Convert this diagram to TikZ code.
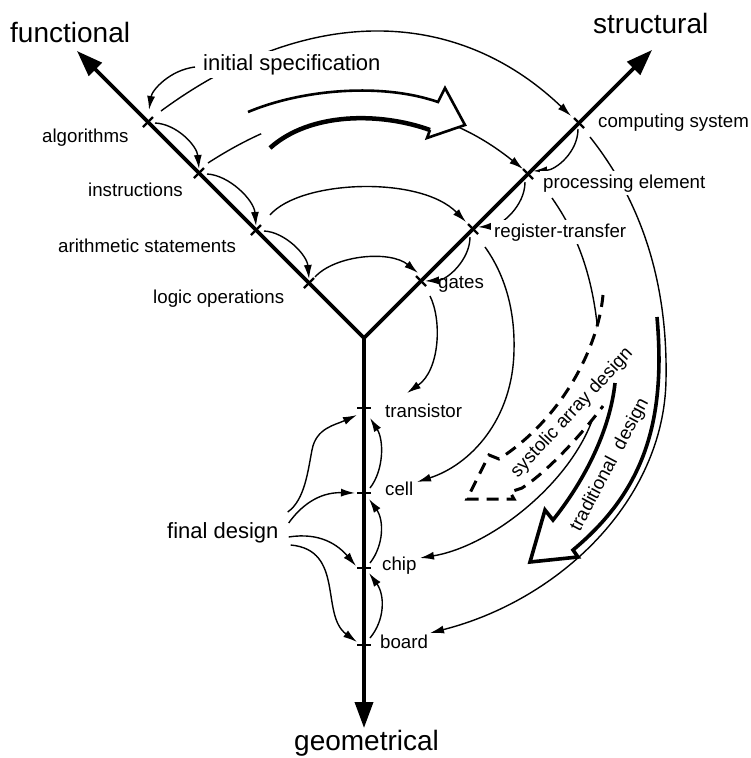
\documentclass[tikz,border=0pt]{standalone}
\usepackage{fontspec}
\setmainfont{Liberation Sans}
\usetikzlibrary{arrows.meta,calc}
\pgfdeclarelayer{arcs}
\pgfdeclarelayer{shapes}
\pgfsetlayers{arcs,shapes,main}
\begin{document}
\begin{tikzpicture}[x=1pt,y=-1pt,
  axisline/.style={line width=3.6pt},
  axhead/.style={-{Triangle[length=26pt,width=18pt]}},
  axheadtwo/.style={{Triangle[length=26pt,width=18pt]}-{Triangle[length=26pt,width=18pt]}},
  axtick/.style={line width=2.4pt},
  conn/.style={line width=1.4pt,-{Latex[length=14pt,width=8pt]}},
  bigt/.style={font=\fontsize{28}{30}\selectfont,inner sep=0pt,anchor=base west},
  medt/.style={font=\fontsize{22}{24}\selectfont,inner sep=0pt,anchor=base west},
  labt/.style={font=\fontsize{18.7}{20}\selectfont,inner sep=0pt,anchor=base west},
  rott/.style={font=\fontsize{18.7}{20}\selectfont,inner sep=0pt,anchor=center},
  mask/.style={fill=white,inner sep=3pt},
  blockthin/.style={line width=2.6pt,line join=miter},
  blockthick/.style={line width=4.5pt},
  tradline/.style={line width=3.6pt,line join=miter},
  sysline/.style={line width=3pt,dash pattern=on 12pt off 8pt,line join=miter},
]
\useasboundingbox (0,0) rectangle (751,758);

% axis points
\coordinate (V) at (364,338);
\coordinate (Ftip) at (77,51);
\coordinate (Stip) at (652,50);
\coordinate (Gtip) at (364,728);
\coordinate (alg) at (148,122);
\coordinate (ins) at (199,173);
\coordinate (ari) at (256,230);
\coordinate (log) at (309,283);
\coordinate (com) at (579,123);
\coordinate (pro) at (528,174);
\coordinate (reg) at (473,229);
\coordinate (gat) at (421,281);
\coordinate (tra) at (364,408);
\coordinate (cel) at (364,493);
\coordinate (chi) at (364,568);
\coordinate (boa) at (364,645);

% labels
\node[bigt] (lfun) at (10,42) {functional};
\node[bigt] (lstr) at (593,33) {structural};
\node[bigt] (lgeo) at (294,750) {geometrical};
\node[medt,mask] (lini) at (200,70) {initial specification};
\node[medt] (lfin) at (167,538) {final design};
\node[labt] (lalg) at (42,142) {algorithms};
\node[labt] (lins) at (88,196) {instructions};
\node[labt] (lari) at (58,252) {arithmetic statements};
\node[labt] (llog) at (153,303) {logic operations};
\node[labt] (lcom) at (598,127) {computing system};
\node[labt,mask] (lpro) at (540,188) {processing element};
\node[labt,mask] (lreg) at (491,237) {register-transfer};
\node[labt] (lgat) at (438,288) {gates};
\node[labt] (ltra) at (385,417) {transistor};
\node[labt] (lcel) at (385,495) {cell};
\node[labt] (lchi) at (382,570) {chip};
\node[labt] (lboa) at (380,648) {board};
\node[rott,rotate=47] (lsys) at (572,413) {systolic array design};
\node[rott,rotate=62] (ltrd) at (610,465) {traditional\hspace{0.3em} design};

\begin{pgfonlayer}{arcs}
% functional chain
\draw[conn] ($(alg)+(7,1)$) .. controls (177,124) and (197,146) .. ($(ins)+(0,-4)$);
\draw[conn] ($(ins)+(8,1)$) .. controls (229,175) and (254,200) .. ($(ari)+(0,-4)$);
\draw[conn] ($(ari)+(8,1)$) .. controls (285,232) and (307,255) .. ($(log)+(0,-4)$);
% structural chain
\draw[conn] ($(com)+(-1,6)$) .. controls (578,152) and (556,170) .. ($(pro)+(5,-3)$);
\draw[conn] ($(pro)+(-3,8)$) .. controls (525,206) and (501,226) .. ($(reg)+(5,-2)$);
\draw[conn] ($(reg)+(-3,8)$) .. controls (470,260) and (447,280) .. ($(gat)+(4,0)$);
% functional -> structural
\draw[conn] ($(lini.base west)+(-5,-3)$) .. controls (170,70) and (152,90) .. ($(alg)+(1,-12)$);
\draw[conn] ($(alg)+(13,-11)$) .. controls (305,5) and (455,5) .. ($(com)+(-8,-7)$);
\draw[conn] ($(ins)+(9,-10)$) .. controls (316,93) and (422,88) .. ($(pro)+(-5,-5)$);
\draw[conn] ($(ari)+(14,-15)$) .. controls (300,180) and (420,175) .. ($(reg)+(-7,-7)$);
\draw[conn] ($(log)+(6,-6)$) .. controls (335,255) and (390,250) .. ($(gat)+(-3,-8)$);
% structural -> geometrical
\draw[conn] ($(gat)+(9,15)$) .. controls (442,320) and (440,370) .. ($(tra)+(43,-15)$);
\draw[conn] ($(reg)+(12,18)$) .. controls (505,275) and (515,310) .. (514,350)
            .. controls (513,420) and (470,465) .. ($(cel)+(53,-11)$);
\draw[conn] ($(pro)+(24,24)$) .. controls (585,245) and (600,300) .. (600,380)
            .. controls (600,460) and (500,545) .. ($(chi)+(56,-10)$);
\draw[conn] ($(com)+(11,14)$) .. controls (640,200) and (668,280) .. (666,380)
            .. controls (664,500) and (560,600) .. ($(boa)+(66,-12)$);
% final design
\draw[conn] ($(lfin.base east)+(9,-26)$) .. controls (305,500) and (308,470) .. (312,450)
            .. controls (316,428) and (335,425) .. ($(tra)+(-7,7)$);
\draw[conn] ($(lfin.base east)+(10,-15)$) .. controls (300,507) and (318,492) .. ($(cel)+(-9,0)$);
\draw[conn] ($(lfin.base east)+(10,-1)$) .. controls (320,532) and (338,545) .. ($(chi)+(-8,-2)$);
\draw[conn] ($(lfin.base east)+(12,7)$) .. controls (345,550) and (320,615) .. ($(boa)+(-7,-3)$);
% geometrical chain
\draw[conn] ($(cel)+(6,-5)$) .. controls (384,470) and (384,440) .. ($(tra)+(6,10)$);
\draw[conn] ($(chi)+(6,-5)$) .. controls (384,545) and (384,520) .. ($(cel)+(5,6)$);
\draw[conn] ($(boa)+(6,-7)$) .. controls (385,620) and (385,595) .. ($(chi)+(5,5)$);
\end{pgfonlayer}

\begin{pgfonlayer}{shapes}
% hollow block arrow (top)
\fill[white] (248,112) .. controls (300,90) and (380,82) .. (438,102) -- (445,88) -- (465,125)
   -- (427,138) -- (430,130) .. controls (380,112) and (310,112) .. (270,148) -- cycle;
\draw[blockthin] (248,112) .. controls (300,90) and (380,82) .. (438,102) -- (445,88) -- (465,125)
   -- (427,138) -- (430,130);
\draw[blockthick] (430,130) .. controls (380,112) and (310,112) .. (270,148);
% traditional design arrow
\fill[white] (657,317) .. controls (666,420) and (645,490) .. (573,550) -- (578,557) -- (530,562)
   -- (545,510) -- (553,520) .. controls (585,480) and (610,430) .. (615,383) -- cycle;
\draw[tradline] (657,317) .. controls (666,420) and (645,490) .. (573,550) -- (578,557) -- (530,562)
   -- (545,510) -- (553,520) .. controls (585,480) and (610,430) .. (615,383);
% systolic array design arrow
\fill[white] (603,295) .. controls (598,350) and (560,420) .. (499,459) -- (489,455) -- (467,499)
   -- (514,499) -- (510,492) -- (522,488) .. controls (550,470) and (585,430) .. (603,406) -- cycle;
\draw[sysline] (603,295) .. controls (598,350) and (560,420) .. (499,459) -- (489,455) -- (467,499)
   -- (514,499) -- (510,492) -- (522,488) .. controls (550,470) and (585,430) .. (603,406);
% axes
\draw[axisline,axheadtwo,line join=miter] (Ftip) -- (V) -- (Stip);
\draw[axisline,axhead] (V) -- (Gtip);
\foreach \p in {alg,ins,ari,log} \draw[axtick] ($(\p)+(-5,5)$) -- ($(\p)+(5,-5)$);
\foreach \p in {com,pro,reg,gat} \draw[axtick] ($(\p)+(-5,-5)$) -- ($(\p)+(5,5)$);
\foreach \p in {tra,cel,chi,boa} \draw[axtick] ($(\p)+(-7,0)$) -- ($(\p)+(7,0)$);
\end{pgfonlayer}
\end{tikzpicture}
\end{document}
